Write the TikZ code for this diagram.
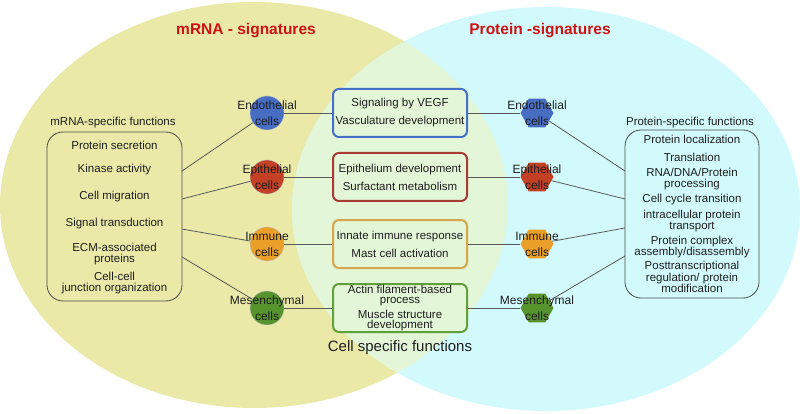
\documentclass[tikz,border=0pt]{standalone}
\usepackage{fontspec}
\setmainfont{Liberation Sans}
\usetikzlibrary{shapes.geometric}
\definecolor{yel}{RGB}{234,233,168}
\definecolor{cya}{RGB}{210,250,252}
\definecolor{lens}{RGB}{227,246,216}
\definecolor{ink}{RGB}{30,30,30}
\definecolor{titred}{RGB}{204,18,18}
\definecolor{blu}{RGB}{72,110,196}
\definecolor{rd}{RGB}{196,64,36}
\definecolor{org}{RGB}{234,160,40}
\definecolor{grn}{RGB}{88,148,46}
\definecolor{bblu}{RGB}{70,112,200}
\definecolor{brd}{RGB}{168,60,50}
\definecolor{borg}{RGB}{214,166,72}
\definecolor{bgrn}{RGB}{98,160,60}
\begin{document}
\begin{tikzpicture}[x=1pt,y=-1pt,
  conn/.style={draw=black!65,line width=0.8pt},
  txt/.style={inner sep=0pt,align=center,text=ink,font=\fontsize{11.5}{10.5}\selectfont},
  ttl/.style={inner sep=0pt,text=titred,font=\bfseries\fontsize{15.5}{18}\selectfont},
  fbox/.style={draw=black!70,line width=0.8pt,rounded corners=16pt,inner sep=0pt},
  cbox/.style={line width=2pt,rounded corners=6pt,fill=lens,minimum width=134pt,minimum height=48pt,
    inner sep=0pt,align=center,text=ink,font=\fontsize{11.5}{18}\selectfont},
  cellc/.style={circle,draw=black!25,line width=0.4pt,minimum size=34pt,inner sep=0pt},
  hexa/.style={regular polygon,regular polygon sides=6,minimum size=33pt,inner sep=0pt},
  ctxt/.style={inner sep=0pt,align=center,text=ink,font=\fontsize{12}{16}\selectfont}]
\useasboundingbox (0,0) rectangle (800,414);
\fill[yel] (254,205) ellipse [x radius=254pt,y radius=203pt];
\fill[cya] (546,209) ellipse [x radius=254pt,y radius=202pt];
\begin{scope}
\clip (254,205) ellipse [x radius=254pt,y radius=203pt];
\fill[lens] (546,209) ellipse [x radius=254pt,y radius=202pt];
\end{scope}
\node[ttl] (T1) at (246,31) {mRNA - signatures};
\node[ttl] (T2) at (540,31) {Protein -signatures};
\node[txt] (LT) at (113,123) {mRNA-specific functions};
\node[fbox,minimum width=135pt,minimum height=169pt] (L) at (114.5,216.5) {};
\node[txt] (L1) at (114.5,145) {Protein secretion};
\node[txt] (L2) at (114.5,170) {Kinase activity};
\node[txt] (L3) at (114.5,197) {Cell migration};
\node[txt] (L4) at (114.5,224) {Signal transduction};
\node[txt] (L5) at (114.5,254) {ECM-associated\\proteins};
\node[txt] (L6) at (114.5,283) {Cell-cell\\junction organization};
\node[txt] (RT) at (690,123) {Protein-specific functions};
\node[fbox,minimum width=134pt,minimum height=168pt] (R) at (692,214) {};
\node[txt] (R1) at (692,139) {Protein localization};
\node[txt] (R2) at (692,157) {Translation};
\node[txt] (R3) at (692,179) {RNA/DNA/Protein\\processing};
\node[txt] (R4) at (692,200) {Cell cycle transition};
\node[txt] (R5) at (692,221) {intracellular protein\\transport};
\node[txt] (R6) at (692,247) {Protein complex\\assembly/disassembly};
\node[txt] (R7) at (692,277) {Posttranscriptional\\regulation/ protein\\modification};
\node[cellc,fill=blu] (c1) at (267,113) {};
\node[cellc,fill=rd] (c2) at (267,177) {};
\node[cellc,fill=org] (c3) at (267,244) {};
\node[cellc,fill=grn] (c4) at (267,308) {};
\node[hexa,fill=blu] (h1) at (537,113) {};
\node[hexa,fill=rd] (h2) at (537,177) {};
\node[hexa,fill=org] (h3) at (537,244) {};
\node[hexa,fill=grn] (h4) at (537,308) {};
\node[ctxt] (ct1) at (c1) {Endothelial\\cells};
\node[ctxt] (ct2) at (c2) {Epithelial\\cells};
\node[ctxt] (ct3) at (c3) {Immune\\cells};
\node[ctxt] (ct4) at (c4) {Mesenchymal\\cells};
\node[ctxt] (ht1) at (h1) {Endothelial\\cells};
\node[ctxt] (ht2) at (h2) {Epithelial\\cells};
\node[ctxt] (ht3) at (h3) {Immune\\cells};
\node[ctxt] (ht4) at (h4) {Mesenchymal\\cells};
\node[cbox,draw=bblu] (b1) at (400,113) {Signaling by VEGF\\Vasculature development};
\node[cbox,draw=brd] (b2) at (400,177) {Epithelium development\\Surfactant metabolism};
\node[cbox,draw=borg] (b3) at (400,244) {Innate immune response\\Mast cell activation};
\node[cbox,draw=bgrn,font=\fontsize{11.5}{10.5}\selectfont] (b4) at (400,308)
  {Actin filament-based\\process\\[3pt]Muscle structure\\development};
\node[txt,font=\fontsize{15}{18}\selectfont] (CS) at (400,348) {Cell specific functions};
\coordinate (l1) at (182,171);
\coordinate (l2) at (182,199);
\coordinate (l3) at (182,229);
\coordinate (l4) at (182,257);
\coordinate (r1) at (625,171);
\coordinate (r2) at (625,199);
\coordinate (r3) at (625,228);
\coordinate (r4) at (625,256);
\draw[conn] (l1)--(c1) (l2)--(c2) (l3)--(c3) (l4)--(c4);
\draw[conn] (c1)--(b1) (c2)--(b2) (c3)--(b3) (c4)--(b4);
\draw[conn] (b1)--(h1) (b2)--(h2) (b3)--(h3) (b4)--(h4);
\draw[conn] (h1)--(r1) (h2)--(r2) (h3)--(r3) (h4)--(r4);
\end{tikzpicture}
\end{document}
